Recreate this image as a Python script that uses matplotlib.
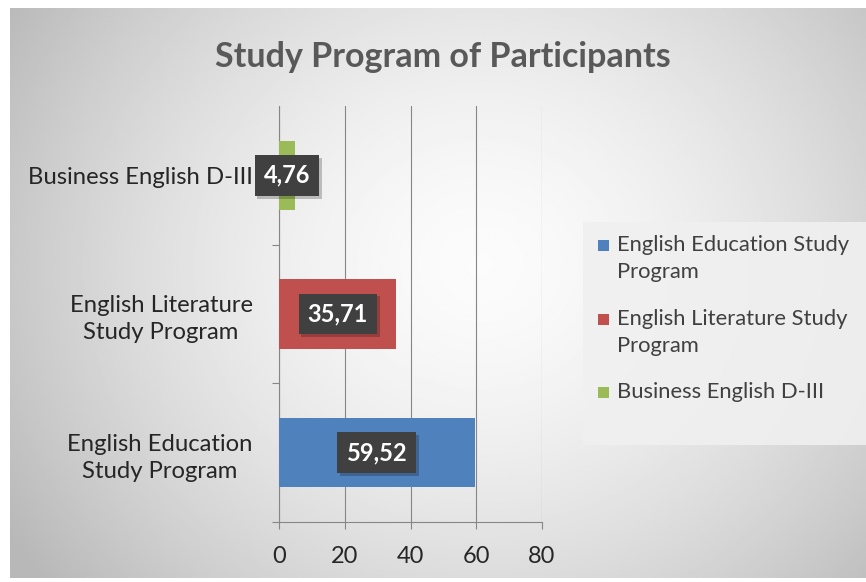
import matplotlib
matplotlib.use("Agg")
import matplotlib.pyplot as plt
import matplotlib.patheffects as pe
from matplotlib.patches import Rectangle
import numpy as np

plt.rcParams['font.family'] = ['Lato', 'DejaVu Sans']

# data
programs = ["English Education\nStudy Program",
            "English Literature\nStudy Program",
            "Business English D-III"]
legend_labels = ["English Education Study\nProgram",
                 "English Literature Study\nProgram",
                 "Business English D-III"]
percent = [59.52, 35.71, 4.76]
value_labels = ["59,52", "35,71", "4,76"]
colors = ["#4F81BD", "#C0504D", "#9BBB59"]
xticks = [0, 20, 40, 60, 80]

W, H = 866, 582
fig = plt.figure(figsize=(W / 100, H / 100), dpi=100)


def fx(px):
    return px / W


def fy(py):
    # pixel row measured from the top -> figure fraction
    return 1 - py / H


# chart area with a soft radial gray gradient
bg = fig.add_axes([fx(10), 4 / H, 856 / W, 570 / H], zorder=-5)
gx, gy = np.meshgrid(np.linspace(0, 1, 400), np.linspace(0, 1, 300))
r = np.sqrt(((gx - 0.55) / 0.55) ** 2 + ((gy - 0.55) / 0.75) ** 2)
shade = np.clip(0.985 - 0.2 * r ** 1.6, 0.72, 1)
bg.imshow(shade, cmap="gray", vmin=0, vmax=1, aspect="auto", extent=[0, 1, 0, 1], origin="lower")
bg.axis("off")

fig.text(fx(443), fy(57), "Study Program of Participants", ha="center", va="center",
         fontsize=24.5, fontweight="bold", color="#595959")

ax = fig.add_axes([fx(279), 60 / H, 263 / W, 416 / H])
ax.patch.set_visible(False)
ypos = np.arange(len(programs))
ax.barh(ypos, percent, height=0.5, color=colors, zorder=3)

for y, v, lab in zip(ypos, percent, value_labels):
    t = ax.text(v / 2, y, lab, ha="center", va="center", color="white",
                fontsize=17, fontweight="bold", zorder=5,
                bbox=dict(boxstyle="square,pad=0.38", fc="#404040", ec="none"))
    t.get_bbox_patch().set_path_effects([
        pe.SimplePatchShadow(offset=(2, -2), shadow_rgbFace="black", alpha=0.22),
        pe.Normal()])

ax.set_xlim(0, 80)
ax.set_ylim(-0.5, 2.5)
ax.set_xticks(xticks)
ax.set_yticks(ypos)
ax.set_yticklabels(programs, multialignment="center", linespacing=1.35)
ax.set_yticks([-0.5, 0.5, 1.5], minor=True)
ax.tick_params(axis="y", which="major", length=0, pad=19, labelsize=17.2, labelcolor="#262626")
ax.tick_params(axis="y", which="minor", length=5, width=0.8, color="#868686", direction="out")
ax.tick_params(axis="x", length=5, width=0.8, color="#868686", direction="out",
               pad=12, labelsize=17, labelcolor="#262626")
ax.grid(axis="x", color="#868686", linewidth=0.8, zorder=0)
for s in ["top", "right"]:
    ax.spines[s].set_visible(False)
for s in ["left", "bottom"]:
    ax.spines[s].set_color("#868686")
    ax.spines[s].set_linewidth(0.8)

# legend drawn by hand so the colour key sits on the first text line
fig.add_artist(Rectangle((fx(583), fy(445)), 283 / W, 223 / H, transform=fig.transFigure,
                         facecolor="#f0f0f0", edgecolor="none", alpha=0.9, zorder=1))
first_line = [245, 319, 392]
for row, lab, c in zip(first_line, legend_labels, colors):
    fig.add_artist(Rectangle((fx(598), fy(row + 6)), 11 / W, 11 / H, transform=fig.transFigure,
                             facecolor=c, edgecolor="none", zorder=2))
    fig.text(fx(617), fy(row - 10), lab, ha="left", va="top", fontsize=15.8,
             color="#404040", linespacing=1.45, zorder=3)

fig.savefig("out.png", dpi=100)
